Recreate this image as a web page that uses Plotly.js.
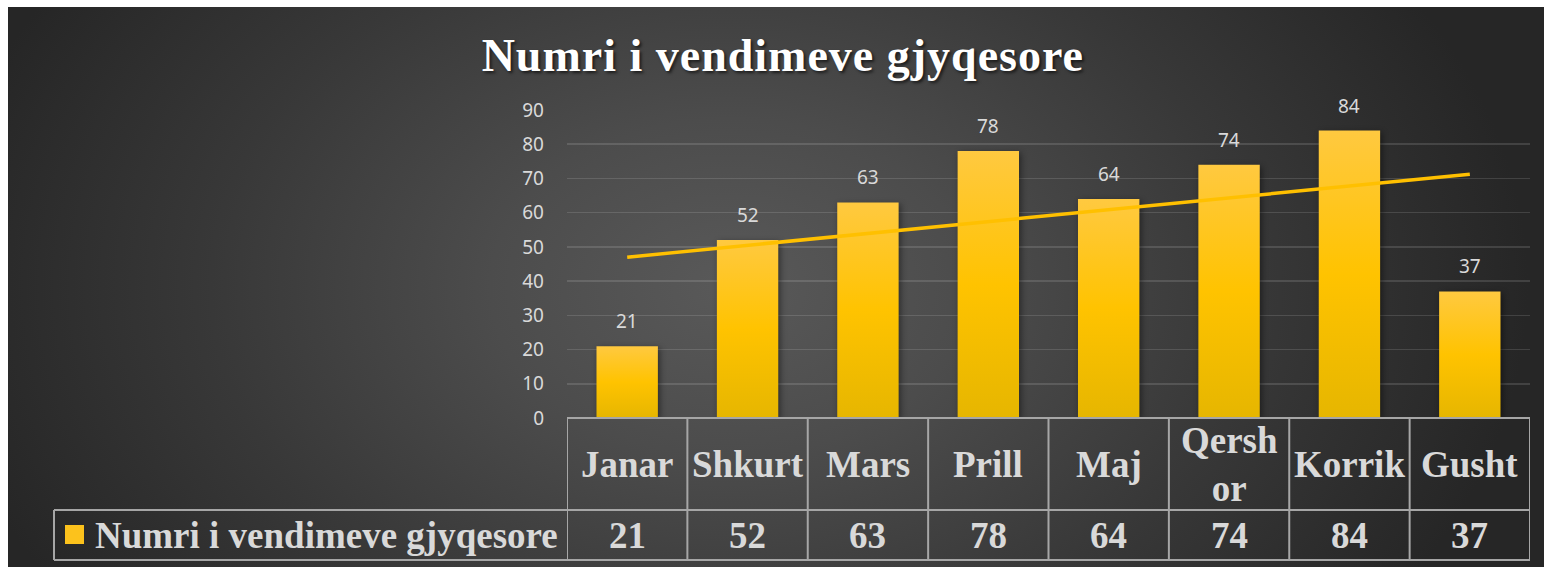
<!DOCTYPE html>
<html>
<head>
<meta charset="utf-8">
<script src="https://cdn.plot.ly/plotly-3.0.1.min.js"></script>
<style>
  html, body { margin: 0; padding: 0; background: #ffffff; }
  #wrap { position: relative; width: 1544px; height: 567px; overflow: hidden; background: #ffffff; }
  #bg { position: absolute; left: 8px; top: 7px; right: 0; bottom: 0;
        background: radial-gradient(ellipse 52% 100% at 47% 50%, #595959 0%, #4c4c4c 30%, #383838 65%, #262626 100%); }
  #chart { position: absolute; left: 0; top: 0; width: 1544px; height: 567px; }
</style>
</head>
<body>
<div id="wrap"><div id="bg"></div><div id="chart"></div></div>
<script>
// ---- data ----
const categories = ['Janar', 'Shkurt', 'Mars', 'Prill', 'Maj', 'Qershor', 'Korrik', 'Gusht'];
const headerLabels = ['Janar', 'Shkurt', 'Mars', 'Prill', 'Maj', 'Qersh<br>or', 'Korrik', 'Gusht'];
const values = [21, 52, 63, 78, 64, 74, 84, 37];
const seriesName = 'Numri i vendimeve gjyqesore';
const chartTitle = 'Numri i vendimeve gjyqesore';
const yTicks = [0, 10, 20, 30, 40, 50, 60, 70, 80, 90];

// linear trendline (least squares, as in the source chart)
const n = values.length;
const xs = values.map((_, i) => i + 1);
const mx = xs.reduce((a, b) => a + b, 0) / n;
const my = values.reduce((a, b) => a + b, 0) / n;
let sxy = 0, sxx = 0;
for (let i = 0; i < n; i++) { sxy += (xs[i] - mx) * (values[i] - my); sxx += (xs[i] - mx) ** 2; }
const slope = sxy / sxx, intercept = my - slope * mx;
const trend = xs.map(x => intercept + slope * x);

// ---- layout geometry (pixels of the 1544x567 canvas) ----
const L = 567, R = 1530, T = 110, B = 418;
const PW = R - L, PH = B - T;
const py = Y => (B - Y) / PH;
const px = X => (X - L) / PW;

const tableFont = { family: 'Liberation Serif, Times New Roman, serif', size: 37, color: '#d9d9d9', weight: 700 };
const lineColor = '#a6a6a6';

const shapes = [];
const annotations = [];
// horizontal table lines
shapes.push({ type: 'line', xref: 'x', yref: 'paper', x0: -0.5, x1: n - 0.5, y0: 0, y1: 0, line: { color: lineColor, width: 2 } });
shapes.push({ type: 'line', xref: 'paper', yref: 'paper', x0: px(54), x1: 1, y0: py(510), y1: py(510), line: { color: lineColor, width: 2 } });
shapes.push({ type: 'line', xref: 'paper', yref: 'paper', x0: px(54), x1: 1, y0: py(560), y1: py(560), line: { color: lineColor, width: 2 } });
// vertical table lines
for (let i = 0; i <= n; i++) {
  shapes.push({ type: 'line', xref: 'x', yref: 'paper', x0: i - 0.5, x1: i - 0.5, y0: 0, y1: py(560), line: { color: lineColor, width: 2 } });
}
shapes.push({ type: 'line', xref: 'paper', yref: 'paper', x0: px(54), x1: px(54), y0: py(510), y1: py(560), line: { color: lineColor, width: 2 } });
// legend key
shapes.push({ type: 'rect', xref: 'paper', yref: 'paper', x0: px(65), x1: px(84), y0: py(544), y1: py(525), line: { width: 0 }, fillcolor: '#fcc21c' });

categories.forEach((c, i) => {
  annotations.push({ x: c, xref: 'x', y: py(464), yref: 'paper', text: headerLabels[i], showarrow: false,
                     font: tableFont, xanchor: 'center', yanchor: 'middle' });
  annotations.push({ x: c, xref: 'x', y: py(535), yref: 'paper', text: String(values[i]), showarrow: false,
                     font: tableFont, xanchor: 'center', yanchor: 'middle' });
  // data labels above bars
  annotations.push({ x: c, xref: 'x', y: values[i], yref: 'y', text: String(values[i]), showarrow: false,
                     yshift: 25, font: { family: 'Noto Sans, sans-serif', size: 19, color: '#d9d9d9' },
                     xanchor: 'center', yanchor: 'middle' });
});
annotations.push({ x: px(93), xref: 'paper', y: py(535), yref: 'paper', text: seriesName, showarrow: false,
                   font: tableFont, xanchor: 'left', yanchor: 'middle' });

const data = [
  { type: 'bar', x: categories, y: values, name: seriesName,
    marker: { color: '#ffc000', line: { width: 0 } }, hoverinfo: 'skip' },
  { type: 'scatter', mode: 'lines', x: categories, y: trend, name: 'Trend',
    line: { color: '#ffc000', width: 3.5 }, hoverinfo: 'skip' }
];

const layout = {
  width: 1544, height: 567,
  margin: { l: L, r: 1544 - R, t: T, b: 567 - B, pad: 0 },
  paper_bgcolor: 'rgba(0,0,0,0)',
  plot_bgcolor: 'rgba(0,0,0,0)',
  showlegend: false,
  bargap: 0.49,
  title: { text: chartTitle, x: 0.507, xref: 'container', xanchor: 'center', y: 1 - 55 / 567, yanchor: 'middle',
           font: { family: 'Liberation Serif, Times New Roman, serif', size: 46, color: '#ffffff', weight: 700, shadow: '2px 2px 3px rgba(0,0,0,0.6)' } },
  xaxis: { type: 'category', range: [-0.5, n - 0.5], showticklabels: false, showgrid: false, zeroline: false, showline: false, ticks: '' },
  yaxis: { range: [0, 90], tickvals: yTicks, ticktext: yTicks.map(String), showgrid: true,
           gridcolor: 'rgba(255,255,255,0.13)', gridwidth: 1.5, zeroline: false, showline: false,
           ticks: '', ticklabelstandoff: 22,
           tickfont: { family: 'Noto Sans, sans-serif', size: 19, color: '#d9d9d9' } },
  shapes: shapes,
  annotations: annotations
};

Plotly.newPlot('chart', data, layout, { staticPlot: true, displayModeBar: false }).then(gd => {
  const svg = gd.querySelector('svg.main-svg');
  const NS = 'http://www.w3.org/2000/svg';
  let defs = svg.querySelector('defs');
  if (!defs) { defs = document.createElementNS(NS, 'defs'); svg.insertBefore(defs, svg.firstChild); }
  const grad = document.createElementNS(NS, 'linearGradient');
  grad.setAttribute('id', 'barGrad');
  grad.setAttribute('x1', '0'); grad.setAttribute('y1', '0'); grad.setAttribute('x2', '0'); grad.setAttribute('y2', '1');
  [['0', '#ffc940'], ['0.5', '#ffc300'], ['1', '#e6b600']].forEach(([o, c]) => {
    const s = document.createElementNS(NS, 'stop');
    s.setAttribute('offset', o); s.setAttribute('stop-color', c);
    grad.appendChild(s);
  });
  defs.appendChild(grad);
  gd.querySelectorAll('.bars .point path').forEach(p => {
    p.style.fill = 'url(#barGrad)';
    p.style.filter = 'drop-shadow(2px 2px 3px rgba(0,0,0,0.45))';
  });
  const t = gd.querySelector('.gtitle');
  if (t) t.style.letterSpacing = '1px';
});
</script>
</body>
</html>
